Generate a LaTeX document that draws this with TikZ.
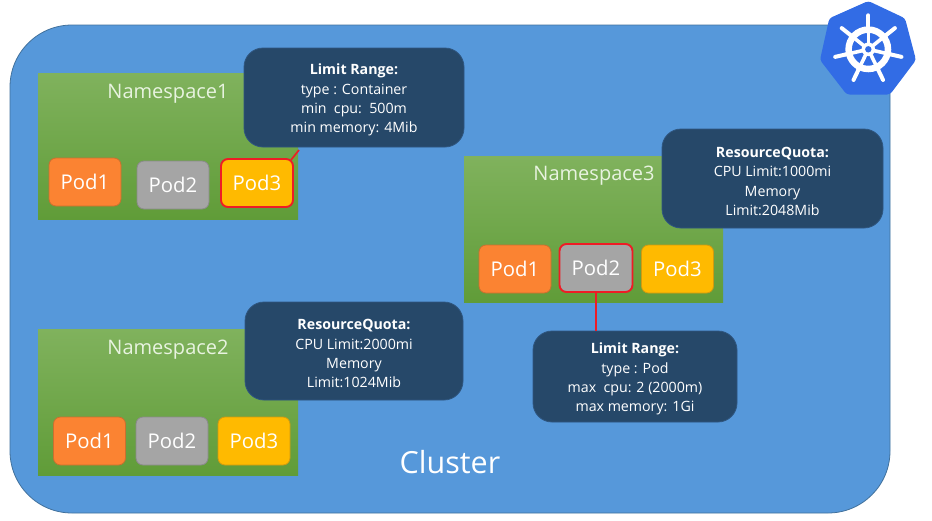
\documentclass[tikz,border=0pt]{standalone}
\usepackage{fontspec}
\setmainfont{Open Sans}
\newcommand{\infohead}[1]{\rule{0pt}{16pt}\textbf{#1}}
\begin{document}
\begin{tikzpicture}[x=1pt,y=-1pt,
  cluster/.style={draw=clusterline,line width=0.8pt,fill=clusterblue,rounded corners=62pt,inner sep=0pt,minimum width=880pt,minimum height=488pt},
  nsbox/.style={shade,top color=nstop,bottom color=nsbot,inner sep=0pt,minimum width=260pt,minimum height=146pt},
  nslabel/.style={text=nstext,font=\fontsize{20}{24}\selectfont,inner sep=0pt},
  podbox/.style={rounded corners=7pt,text=white,font=\fontsize{20.3}{24}\selectfont,inner sep=0pt,minimum width=72pt,minimum height=48pt,line width=0.8pt},
  orangepod/.style={podbox,fill=podorange,draw=podorangeline},
  greypod/.style={podbox,fill=podgrey,draw=podgreyline},
  yellowpod/.style={podbox,fill=podyellow,draw=podyellowline},
  selected/.style={draw=podred,line width=1.9pt},
  infobox/.style={rounded corners=19pt,fill=infofill,draw=infoline,line width=0.8pt,text=white,align=center,inner sep=0pt,font=\fontsize{14.2}{19.3}\selectfont},
  redlink/.style={draw=podred,line width=1.7pt},
]
\definecolor{clusterblue}{HTML}{5698DA}
\definecolor{clusterline}{HTML}{41719C}
\definecolor{nstop}{HTML}{80B25D}
\definecolor{nsbot}{HTML}{609C38}
\definecolor{nstext}{HTML}{E8F3E0}
\definecolor{podorange}{HTML}{FB8332}
\definecolor{podorangeline}{HTML}{C9702F}
\definecolor{podgrey}{HTML}{A5A5A5}
\definecolor{podgreyline}{HTML}{8A8A8A}
\definecolor{podyellow}{HTML}{FFBA00}
\definecolor{podyellowline}{HTML}{D09A10}
\definecolor{podred}{HTML}{EE1C25}
\definecolor{infofill}{HTML}{264869}
\definecolor{infoline}{HTML}{2F5680}
\definecolor{k8sblue}{HTML}{326CE5}
\useasboundingbox (0,0) rectangle (932,520);
\fill[white] (0,0) rectangle (932,520);

\node[cluster] (cluster) at (450,269) {};
\node[text=white,font=\fontsize{30.5}{36}\selectfont,inner sep=0pt] (clusterlabel) at (450,462) {Cluster};

% Namespace 1
\node[nsbox] (ns1) at (168,146) {};
\node[nslabel] (ns1label) at (168,93.5) {Namespace1};
\node[orangepod] (a1) at (85,182) {Pod1};
\node[greypod] (a2) at (173,185) {Pod2};
\node[yellowpod,selected] (a3) at (257,183) {Pod3};
\node[infobox,minimum width=220pt,minimum height=99pt] (lr1) at (354,97.5)
  {\infohead{Limit Range:}\\type : Container\\min\ \ cpu:\ \ 500m\\min memory: 4Mib};
\coordinate (lr1foot) at (299,150);
\draw[redlink] (a3.north east) ++(-3,2) -- (lr1foot);

% Namespace 2
\node[nsbox] (ns2) at (168,402) {};
\node[nslabel] (ns2label) at (168,349.5) {Namespace2};
\node[orangepod] (b1) at (89.5,441) {Pod1};
\node[greypod] (b2) at (172,441) {Pod2};
\node[yellowpod] (b3) at (254,441) {Pod3};
\node[infobox,minimum width=218pt,minimum height=98pt] (rq2) at (354,351)
  {\infohead{ResourceQuota:}\\CPU Limit:2000mi\\Memory\\Limit:1024Mib};

% Namespace 3
\node[nsbox,minimum width=259pt] (ns3) at (593.5,229) {};
\node[nslabel] (ns3label) at (594,175.5) {Namespace3};
\node[orangepod] (c1) at (515,269) {Pod1};
\node[greypod,selected,minimum width=73pt] (c2) at (596,268) {Pod2};
\node[yellowpod] (c3) at (677.5,269) {Pod3};
\node[infobox,minimum width=221pt,minimum height=99pt] (rq3) at (772.5,178.5)
  {\infohead{ResourceQuota:}\\CPU Limit:1000mi\\Memory\\Limit:2048Mib};
\node[infobox,minimum width=204pt,minimum height=91pt] (lr2) at (635,376.5)
  {\infohead{Limit Range:}\\type : Pod\\max\ \ cpu: 2 (2000m)\\max memory: 1Gi};
\draw[redlink] (c2.south) -- (c2.south |- lr2.north);

% Kubernetes logo
\fill[k8sblue,rounded corners=3pt] (868.3,1) -- (905,18.3) -- (916,60) -- (890,94.5) -- (846.7,94.5) -- (820,60) -- (829.3,18.3) -- cycle;
\begin{scope}[shift={(868.3,49.3)}]
  \draw[white,line width=6.5pt] (0,0) circle (19.7pt);
  \foreach \a in {90,141.43,192.86,244.29,295.71,347.14,398.57}{
    \draw[white,line width=3.6pt] (0,0) -- ({24*cos(\a)},{-24*sin(\a)});
    \draw[white,line width=4pt,line cap=round] ({20*cos(\a)},{-20*sin(\a)}) -- ({34*cos(\a)},{-34*sin(\a)});
  }
  \fill[white] (0,0) circle (6.8pt);
  \fill[k8sblue] (0,0) circle (3.2pt);
\end{scope}
\end{tikzpicture}
\end{document}
